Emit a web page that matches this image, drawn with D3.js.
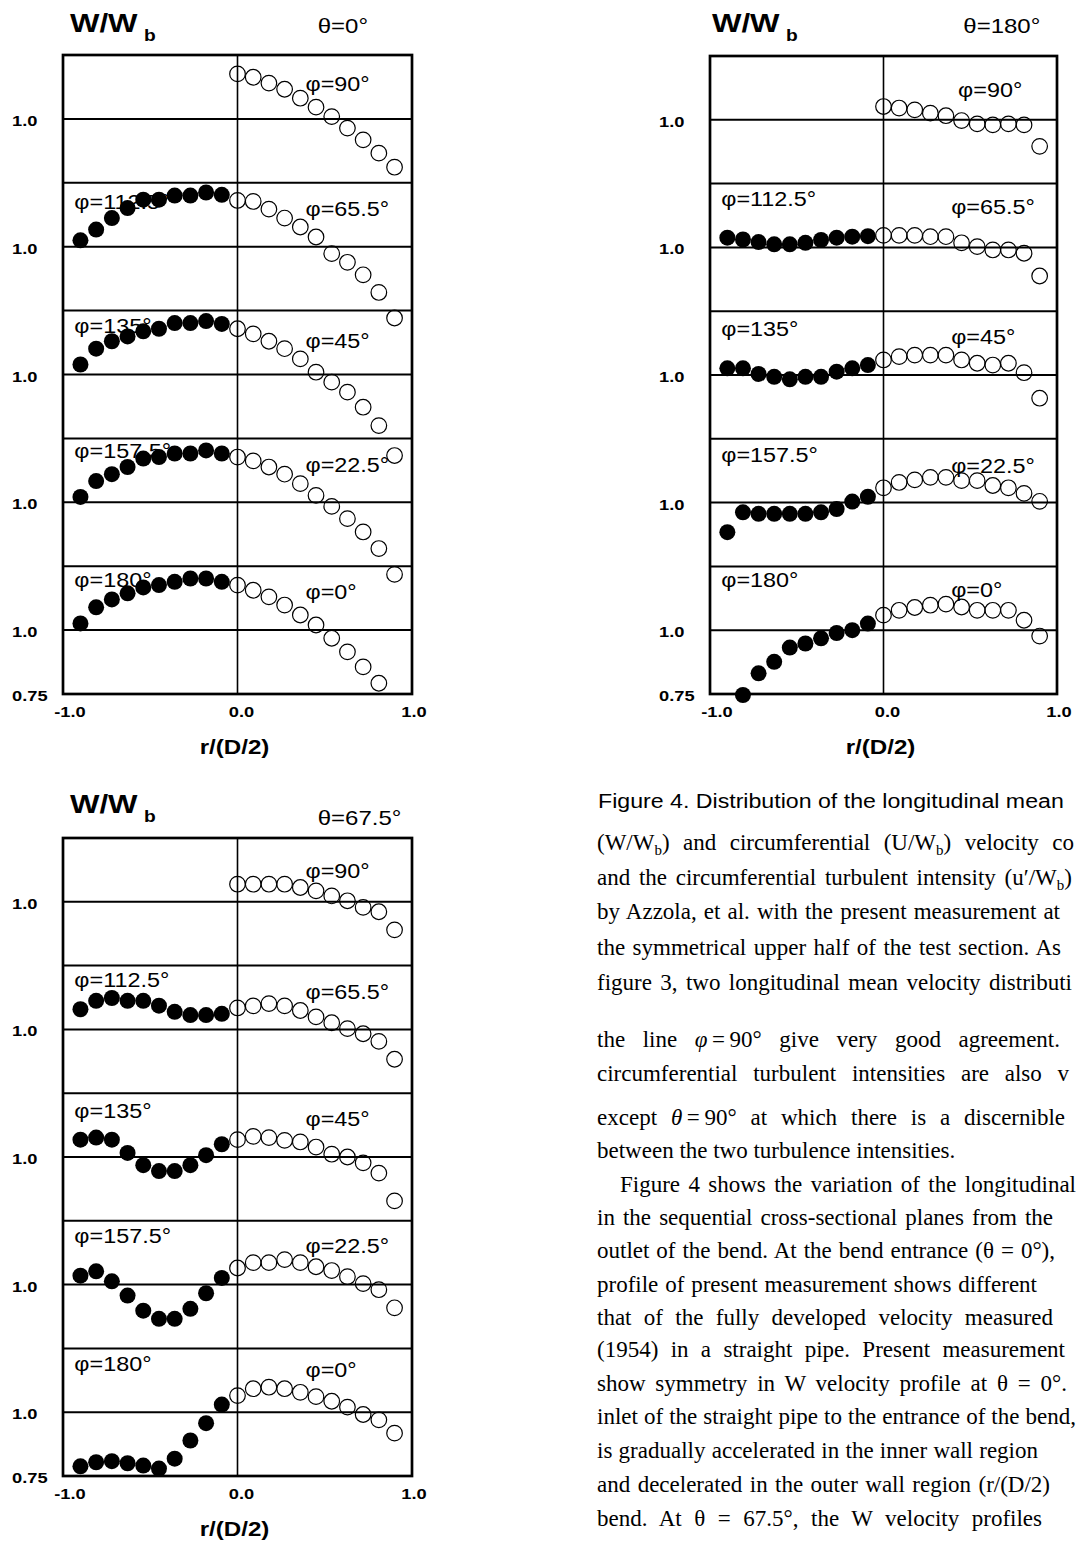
<!DOCTYPE html>
<html><head><meta charset="utf-8">
<script src="https://cdn.jsdelivr.net/npm/d3@7"></script>
<style>
html,body{margin:0;padding:0;background:#fff;overflow:hidden}
svg{display:block}
.sans{font-family:"Liberation Sans",Arial,sans-serif}
.serif{font-family:"Liberation Serif","Times New Roman",serif}
</style></head><body>
<svg id="fig" width="1078" height="1546"></svg>
<script>
// ---------------- DATA ----------------
const xInner = [-0.90,-0.81,-0.72,-0.63,-0.54,-0.45,-0.36,-0.27,-0.18,-0.09];
const xOuter = [0.00,0.09,0.18,0.27,0.36,0.45,0.54,0.63,0.72,0.81,0.90];
const outerPhi = ["φ=0°","φ=22.5°","φ=45°","φ=65.5°","φ=90°"];
const innerPhi = ["φ=180°","φ=157.5°","φ=135°","φ=112.5°"];
const thetaLabels = ["θ=0°","θ=180°","θ=67.5°"];
const yTickVals = [0.75,1.0,1.5,2.0,2.5,3.0];
const yTickText = ["0.75","1.0","1.0","1.0","1.0","1.0"];
const xTickVals = [-1,0,1];
const xTickText = ["-1.0","0.0","1.0"];

// theta = 0 deg
const t0_phi0   = [1.176,1.156,1.130,1.098,1.059,1.020,0.968,0.915,0.856,0.792,null];
const t0_phi22  = [1.177,1.162,1.138,1.110,1.073,1.027,0.984,0.936,0.884,0.819,0.718];
const t0_phi45  = [1.179,1.159,1.130,1.101,1.061,1.009,0.970,0.931,0.872,0.800,0.683];
const t0_phi65  = [1.181,1.177,1.147,1.112,1.077,1.038,0.973,0.939,0.890,0.821,0.721];
const t0_phi90  = [1.176,1.163,1.140,1.116,1.081,1.046,1.009,0.964,0.918,0.866,0.811];
const t0_phi180 = [1.026,1.089,1.120,1.144,1.167,1.176,1.189,1.202,1.202,1.189];
const t0_phi157 = [1.021,1.083,1.110,1.138,1.171,1.177,1.191,1.191,1.203,1.191];
const t0_phi135 = [1.039,1.101,1.130,1.149,1.169,1.179,1.201,1.201,1.209,1.198];
const t0_phi112 = [1.025,1.067,1.112,1.151,1.184,1.184,1.200,1.200,1.212,1.203];

// theta = 180 deg
const t180_phi0   = [1.059,1.078,1.089,1.098,1.102,1.091,1.078,1.078,1.078,1.039,0.977];
const t180_phi22  = [1.058,1.079,1.089,1.099,1.099,1.086,1.086,1.067,1.058,1.036,1.005];
const t180_phi45  = [1.059,1.072,1.078,1.078,1.078,1.059,1.046,1.039,1.046,1.009,0.909];
const t180_phi65  = [1.047,1.047,1.047,1.042,1.042,1.018,1.003,0.990,0.990,0.977,0.888];
const t180_phi90  = [1.052,1.046,1.039,1.026,1.016,0.997,0.984,0.980,0.984,0.980,0.896];
const t180_phi180 = [null,0.746,0.831,0.876,0.932,0.948,0.968,0.989,1.000,1.026];
const t180_phi157 = [0.884,0.962,0.956,0.956,0.956,0.956,0.962,0.975,1.004,1.023];
const t180_phi135 = [1.026,1.026,1.004,0.993,0.983,0.993,0.993,1.013,1.026,1.039];
const t180_phi112 = [1.038,1.031,1.021,1.012,1.012,1.018,1.029,1.038,1.042,1.044];

// theta = 67.5 deg
const t67_phi0   = [1.065,1.092,1.098,1.092,1.078,1.061,1.043,1.020,0.991,0.970,0.918];
const t67_phi22  = [1.065,1.086,1.086,1.098,1.086,1.070,1.055,1.031,1.004,0.980,0.909];
const t67_phi45  = [1.068,1.081,1.076,1.065,1.059,1.039,1.011,1.000,0.977,0.937,0.828];
const t67_phi65  = [1.084,1.092,1.101,1.092,1.074,1.049,1.026,1.003,0.983,0.953,0.883];
const t67_phi90  = [1.069,1.069,1.069,1.069,1.056,1.043,1.023,1.004,0.978,0.961,0.890];
const t67_phi180 = [0.788,0.804,0.808,0.800,0.791,0.779,0.818,0.889,0.957,1.030];
const t67_phi157 = [1.035,1.052,1.013,0.957,0.898,0.866,0.866,0.905,0.966,1.026];
const t67_phi135 = [1.068,1.076,1.068,1.016,0.968,0.945,0.945,0.968,1.007,1.050];
const t67_phi112 = [1.079,1.112,1.123,1.112,1.112,1.093,1.069,1.056,1.056,1.061];

// body text (visible part of each line)
const captionText = "Figure 4. Distribution of the longitudinal mean";
const bodyText = [
 "(W/W~b~) and circumferential (U/W~b~) velocity co",
 "and the circumferential turbulent intensity (u′/W~b~)",
 "by Azzola, et al. with the present measurement at",
 "the symmetrical upper half of the test section. As",
 "figure 3, two longitudinal mean velocity distributi",
 "the line *φ*\u2009=\u200990° give very good agreement.",
 "circumferential turbulent intensities are also v",
 "except *θ*\u2009=\u200990° at which there is a discernible",
 "between the two turbulence intensities.",
 "Figure 4 shows the variation of the longitudinal",
 "in the sequential cross-sectional planes from the",
 "outlet of the bend. At the bend entrance (θ = 0°),",
 "profile of present measurement shows different",
 "that of the fully developed velocity measured",
 "(1954) in a straight pipe. Present measurement",
 "show symmetry in W velocity profile at θ = 0°.",
 "inlet of the straight pipe to the entrance of the bend,",
 "is gradually accelerated in the inner wall region",
 "and decelerated in the outer wall region (r/(D/2)",
 "bend. At θ = 67.5°, the W velocity profiles"
];

// ---------------- LAYOUT ----------------
const BAND = 0.5;
const xDomain = [-1, 1];
const yDomain = [0.75, 3.25];
const hLines = [1.0,1.25,1.5,1.75,2.0,2.25,2.5,2.75,3.0];
const SX = 1.2;

const panels = [
 {x0:63, x1:412, y0:55, y1:694, titleX:70, titleY:32, thetaY:33, theta:thetaLabels[0],
  outer:[t0_phi0,t0_phi22,t0_phi45,t0_phi65,t0_phi90],
  inner:[t0_phi180,t0_phi157,t0_phi135,t0_phi112],
  outDy:[33,34,37,33,36], outX:[0.39,0.39,0.39,0.39,0.39], inDy:[21,20,22,26]},
 {x0:710, x1:1057, y0:56, y1:694, titleX:712, titleY:32, thetaY:33, theta:thetaLabels[1],
  outer:[t180_phi0,t180_phi22,t180_phi45,t180_phi65,t180_phi90],
  inner:[t180_phi180,t180_phi157,t180_phi135,t180_phi112],
  outDy:[31,34,33,30,41], outX:[0.39,0.39,0.39,0.39,0.43], inDy:[21,23,25,22]},
 {x0:63, x1:412, y0:838, y1:1476, titleX:70, titleY:813, thetaY:825, theta:thetaLabels[2],
  outer:[t67_phi0,t67_phi22,t67_phi45,t67_phi65,t67_phi90],
  inner:[t67_phi180,t67_phi157,t67_phi135,t67_phi112],
  outDy:[29,32,33,33,40], outX:[0.39,0.39,0.39,0.39,0.39], inDy:[23,22,25,21]}
];

const svg = d3.select('#fig');
function place(sel, x, y, sx){ return sel.attr('transform', `translate(${x},${y}) scale(${sx},1)`); }

function drawPanel(p){
  const g = svg.append('g');
  const x = d3.scaleLinear().domain(xDomain).range([p.x0, p.x1]);
  const y = d3.scaleLinear().domain(yDomain).range([p.y1, p.y0]);

  g.selectAll('line.h').data(hLines).join('line').attr('class','h')
    .attr('x1',p.x0).attr('x2',p.x1).attr('y1',d=>y(d)).attr('y2',d=>y(d))
    .attr('stroke','#000').attr('stroke-width',2);
  g.append('line').attr('x1',x(0)).attr('x2',x(0)).attr('y1',p.y0).attr('y2',p.y1)
    .attr('stroke','#000').attr('stroke-width',1.6);
  g.append('rect').attr('x',p.x0).attr('y',p.y0).attr('width',p.x1-p.x0).attr('height',p.y1-p.y0)
    .attr('fill','none').attr('stroke','#000').attr('stroke-width',2.7);

  outerPhi.forEach((lab,k)=>{
    place(g.append('text').attr('class','sans').style('font-size','19.5px').text(lab),
      x(p.outX[k]), y(1.25+BAND*k)+p.outDy[k], SX);
  });
  innerPhi.forEach((lab,k)=>{
    place(g.append('text').attr('class','sans').style('font-size','19.5px').text(lab),
      x(-0.935), y(1.25+BAND*k)+p.inDy[k], SX);
  });

  p.outer.forEach((arr,k)=>{
    const pts = xOuter.map((xv,i)=>({x:xv, v:arr[i]})).filter(d=>d.v!=null);
    g.selectAll(null).data(pts).join('circle')
      .attr('cx',d=>x(d.x)).attr('cy',d=>y(d.v+BAND*k)).attr('r',7.8)
      .attr('fill','none').attr('stroke','#000').attr('stroke-width',1.2);
  });
  p.inner.forEach((arr,k)=>{
    const pts = xInner.map((xv,i)=>({x:xv, v:arr[i]})).filter(d=>d.v!=null);
    g.selectAll(null).data(pts).join('circle')
      .attr('cx',d=>x(d.x)).attr('cy',d=>y(d.v+BAND*k)).attr('r',8)
      .attr('fill','#000');
  });

  yTickVals.forEach((v,i)=>{
    place(g.append('text').attr('class','sans').style('font-size','15.5px').style('font-weight','bold')
      .text(yTickText[i]), p.x0-51, y(v)+7, 1.18);
  });
  const xdx = [7,4,2];
  xTickVals.forEach((v,i)=>{
    place(g.append('text').attr('class','sans').style('font-size','15.5px').style('font-weight','bold')
      .attr('text-anchor','middle').text(xTickText[i]), x(v)+xdx[i], p.y1+23, 1.18);
  });
  place(g.append('text').attr('class','sans').style('font-size','21px').style('font-weight','bold')
    .attr('text-anchor','middle').text('r/(D/2)'), x(0)-3, p.y1+60, 1.15);
  place(g.append('text').attr('class','sans').style('font-size','26px').style('font-weight','bold')
    .text('W/W'), p.titleX, p.titleY, SX);
  place(g.append('text').attr('class','sans').style('font-size','16px').style('font-weight','bold')
    .text('b'), p.titleX+74, p.titleY+9, SX);
  place(g.append('text').attr('class','sans').style('font-size','20px').text(p.theta),
    x(0.46), p.thetaY, SX);
}
panels.forEach(drawPanel);

// ---------------- TEXT ----------------
const capX = 598, capY = 808, capEnd = 1064;
const bodyY = [850,885,919,955,990,1047,1081,1125,1158,1192,1225,1258,1292,1325,1357,1391,1424,1458,1492,1526];
const bodyEnd = [1074,1072,1060,1061,1072,1060,1069,1065,null,1076,1053,1055,1037,1053,1065,1067,1076,1038,1050,1042];
const bodyX = bodyText.map((t,i)=> i===9 ? 620 : 597);

(function(){
  const tmp = svg.append('text').attr('class','sans').style('font-size','21px').text(captionText);
  const L = tmp.node().getComputedTextLength(); tmp.remove();
  place(svg.append('text').attr('class','sans').style('font-size','21px').text(captionText),
    capX, capY, (capEnd-capX)/L);
})();

function fillLine(textSel, parts){
  let shifted = false;
  parts.forEach(s=>{
    if (s[0]==='~'){
      textSel.append('tspan').attr('dy',5).style('font-size','15px').text(s.slice(1,-1));
      shifted = true;
    } else if (s[0]==='*'){
      textSel.append('tspan').attr('dy', shifted? -5:0).style('font-style','italic').text(s.slice(1,-1));
      shifted = false;
    } else {
      textSel.append('tspan').attr('dy', shifted? -5:0).text(s);
      shifted = false;
    }
  });
}
function spaces(parts){ return parts.join('').split(' ').length-1; }

bodyText.forEach((t,i)=>{
  const parts = t.split(/(~[^~]*~|\*[^*]*\*)/).filter(s=>s!=='');
  let ws = 0;
  if (bodyEnd[i]!=null){
    const tmp = svg.append('text').attr('class','serif').style('font-size','23px')
      .attr('x',bodyX[i]).attr('y',bodyY[i]);
    fillLine(tmp, parts);
    const L = tmp.node().getComputedTextLength(); tmp.remove();
    const n = spaces(parts);
    if (n>0) ws = (bodyEnd[i]-bodyX[i]-L)/n;
  }
  const tx = svg.append('text').attr('class','serif').style('font-size','23px')
    .style('word-spacing', ws+'px').attr('x',bodyX[i]).attr('y',bodyY[i]);
  fillLine(tx, parts);
});
</script>
</body></html>
